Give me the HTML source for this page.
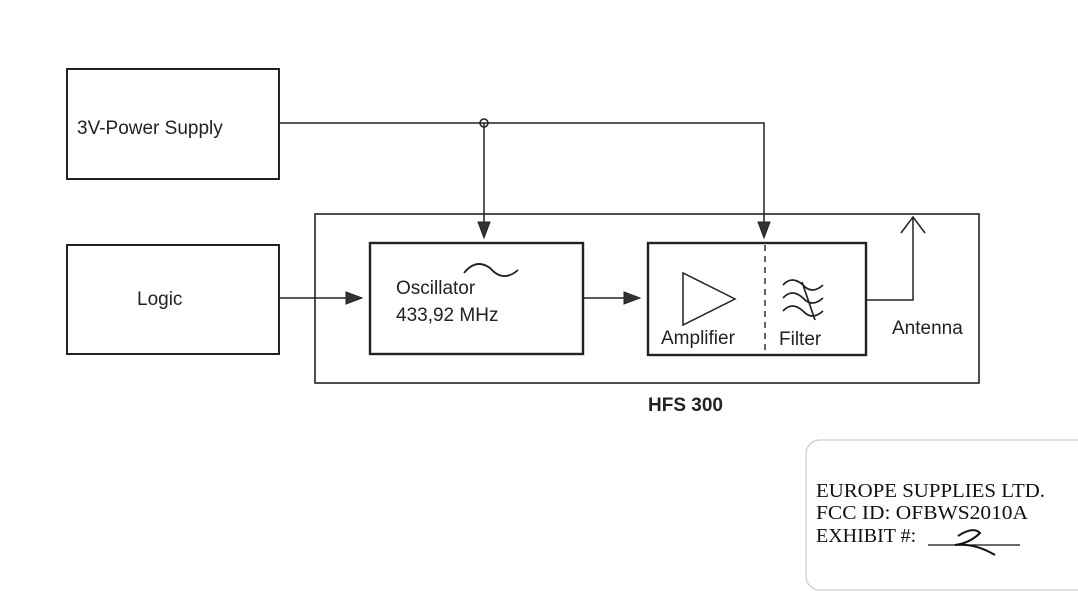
<!DOCTYPE html>
<html><head><style>
body{margin:0;background:#fff;}
</style></head><body>
<svg width="1078" height="595" xmlns="http://www.w3.org/2000/svg" style="display:block">
<g fill="none" stroke="#222" stroke-width="2">
<rect x="67" y="69" width="212" height="110"/>
<rect x="67" y="245" width="212" height="109"/>
<rect x="315" y="214" width="664" height="169" stroke-width="1.6"/>
<rect x="370" y="243" width="213" height="111" stroke-width="2.4"/>
<rect x="648" y="243" width="218" height="112" stroke-width="2.4"/>
</g>
<line x1="765" y1="245" x2="765" y2="353" stroke="#222" stroke-width="1.4" stroke-dasharray="6,5"/>
<g fill="none" stroke="#222" stroke-width="1.5">
<polyline points="279,123 764,123 764,228"/>
<line x1="484" y1="123" x2="484" y2="225"/>
<circle cx="484" cy="123" r="4"/>
<line x1="279" y1="298" x2="352" y2="298"/>
<line x1="583" y1="298" x2="630" y2="298"/>
<polyline points="866,300 913,300 913,218"/>
<polyline points="901,233 913,217 925,233"/>
<path d="M464,273 Q476,258 490,268 Q503,283 518,270" stroke-width="1.8"/>
<polygon points="683,273 683,325 735,299"/>
<path d="M783,285 q9,-10 20,0 q9,10 20,0 M783,298 q9,-10 20,0 q9,10 20,0 M783,311 q9,-10 20,0 q9,10 20,0 M802,282 L815,320" stroke-width="1.7"/>
<rect x="806" y="440" width="290" height="150" rx="14" stroke="#ccc" stroke-width="1.2"/>
</g>
<g fill="#333" stroke="#222" stroke-width="1">
<polygon points="478,222 490,222 484,238"/>
<polygon points="758,222 770,222 764,238"/>
<polygon points="346,292 346,304 362,298"/>
<polygon points="624,292 624,304 640,298"/>
</g>
<g font-family="Liberation Sans, Arial, sans-serif" font-size="19" fill="#222">
<text x="77" y="134">3V-Power Supply</text>
<text x="137" y="305">Logic</text>
<text x="396" y="294">Oscillator</text>
<text x="396" y="321">433,92 MHz</text>
<text x="661" y="344">Amplifier</text>
<text x="779" y="345">Filter</text>
<text x="892" y="334">Antenna</text>
<text x="648" y="411" font-weight="bold">HFS 300</text>
</g>
<g font-family="Liberation Serif, Times New Roman, serif" font-size="20" fill="#111">
<text x="816" y="497" textLength="229" lengthAdjust="spacingAndGlyphs">EUROPE SUPPLIES LTD.</text>
<text x="816" y="519" textLength="212" lengthAdjust="spacingAndGlyphs">FCC ID:  OFBWS2010A</text>
<text x="816" y="542">EXHIBIT #:</text>
</g>
<line x1="928" y1="545" x2="1020" y2="545" stroke="#111" stroke-width="1.3"/>
<path d="M958,536 q15,-10 22,-3 q-10,10 -25,12 q20,-2 40,10" fill="none" stroke="#111" stroke-width="2"/>
</svg>
</body></html>
